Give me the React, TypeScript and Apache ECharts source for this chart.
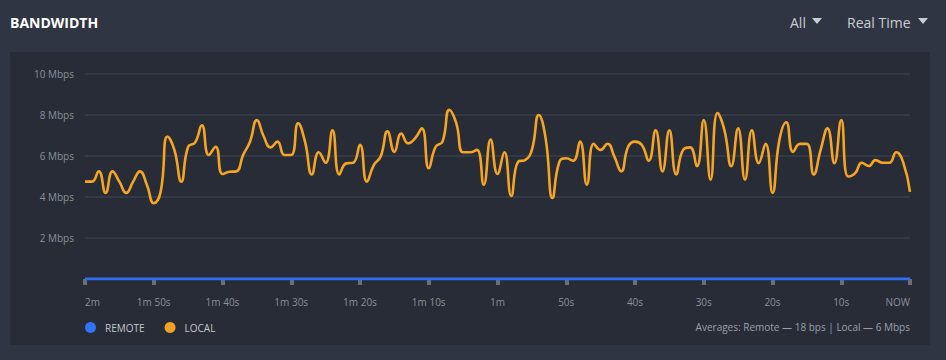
import React, { useEffect, useRef } from "react";
import * as echarts from "echarts";

const seconds: number[] = Array.from({ length: 121 }, (_, i) => i);

const localMbps: number[] = [
  4.75, 4.75, 5.25, 4.2, 5.25, 4.75, 4.2, 4.75, 5.25, 4.6,
  3.7, 4.25, 6.95, 6.3, 4.75, 6.45, 6.65, 7.5, 6.05, 6.45,
  5.12, 5.23, 5.25, 6.05, 6.7, 7.75, 6.95, 6.42, 6.7, 6.05,
  6.05, 7.6, 6.7, 5.1, 6.18, 5.67, 7.25, 5.1, 5.64, 5.67,
  6.55, 4.75, 5.56, 5.97, 7.2, 6.2, 7.1, 6.62, 6.86, 7.35,
  5.4, 6.45, 6.7, 8.25, 7.6, 6.18, 6.18, 6.3, 4.6, 6.8,
  5.12, 6.18, 4.05, 5.72, 5.8, 6.3, 8.0, 6.86, 3.95, 5.72,
  5.89, 5.77, 6.7, 4.6, 6.6, 6.3, 6.6, 5.97, 5.25, 6.45,
  6.7, 6.54, 5.77, 7.25, 5.25, 7.25, 5.1, 6.3, 6.42, 5.5,
  7.75, 4.85, 8.1, 7.27, 5.5, 7.35, 4.85, 7.25, 5.65, 6.6,
  4.2, 6.78, 7.65, 6.2, 6.59, 6.59, 5.1, 6.3, 7.35, 5.65,
  7.75, 5.0, 5.15, 5.67, 5.51, 5.8, 5.67, 5.67, 6.18, 5.7,
  4.25,
];

// 18 bps expressed in Mbps
const remoteMbps: number[] = seconds.map(() => 0.000018);

const xTickLabels: Record<number, string> = {
  0: "2m", 10: "1m 50s", 20: "1m 40s", 30: "1m 30s", 40: "1m 20s",
  50: "1m 10s", 60: "1m", 70: "50s", 80: "40s", 90: "30s",
  100: "20s", 110: "10s", 120: "NOW",
};

const yTicks: number[] = [2, 4, 6, 8, 10];

const FONT = "'Open Sans', 'Noto Sans', sans-serif";

export default function App() {
  const ref = useRef<HTMLDivElement>(null);

  useEffect(() => {
    if (!ref.current) return;
    const chart = echarts.init(ref.current, undefined, { renderer: "svg" });
    const option: any = {
      animation: false,
      backgroundColor: "#2f3542",
      textStyle: { fontFamily: FONT },
      grid: { left: 85, right: 36, top: 74, bottom: 81 },
      legend: {
        left: 80,
        top: 317,
        icon: "circle",
        itemWidth: 11,
        itemHeight: 11,
        itemGap: 20,
        textStyle: { color: "#c3c7cd", fontSize: 10, fontFamily: FONT, padding: [0, 0, 0, 4] },
        data: ["REMOTE", "LOCAL"],
      },
      xAxis: {
        type: "value",
        min: 0,
        max: 120,
        interval: 10,
        axisLine: { show: true, lineStyle: { color: "rgba(0,0,0,0)", width: 1 } },
        axisTick: {
          show: true,
          length: 6,
          lineStyle: { color: "#6a6e75", width: 4, cap: "butt" },
        },
        splitLine: { show: false },
        axisLabel: {
          color: "#8b9099",
          fontSize: 10,
          fontFamily: FONT,
          margin: 18,
          alignMinLabel: "left",
          alignMaxLabel: "right",
          formatter: (v: number) => xTickLabels[v] ?? "",
        },
      },
      yAxis: {
        type: "value",
        min: 0,
        max: 10,
        interval: 2,
        axisLine: { show: false },
        axisTick: { show: false },
        splitLine: { lineStyle: { color: "#343a45", width: 2 } },
        axisLabel: {
          color: "#8b9099",
          fontSize: 10,
          fontFamily: FONT,
          margin: 11,
          formatter: (v: number) => (yTicks.includes(v) ? `${v} Mbps` : ""),
        },
      },
      series: [
        {
          name: "LOCAL",
          type: "line",
          data: seconds.map((s, i) => [s, localMbps[i]]),
          smooth: 0.5,
          showSymbol: false,
          symbol: "circle",
          lineStyle: { color: "#f5a523", width: 2.6 },
          itemStyle: { color: "#f0a126" },
          z: 3,
        },
        {
          name: "REMOTE",
          type: "line",
          data: seconds.map((s, i) => [s, remoteMbps[i]]),
          showSymbol: false,
          symbol: "circle",
          lineStyle: { color: "#2f6ff0", width: 3 },
          itemStyle: { color: "#2f73f6" },
          z: 4,
        },
      ],
      graphic: [
        {
          type: "rect",
          z: -10,
          silent: true,
          shape: { x: 10, y: 52, width: 920, height: 293 },
          style: { fill: "#272c36" },
        },
        {
          type: "text",
          x: 10,
          y: 22,
          style: {
            text: "BANDWIDTH",
            fill: "#ffffff",
            font: `bold 14px ${FONT}`,
            verticalAlign: "middle",
          },
        },
        {
          type: "text",
          x: 790,
          y: 22,
          style: {
            text: "All",
            fill: "#c9cdd3",
            font: `14px ${FONT}`,
            verticalAlign: "middle",
          },
        },
        {
          type: "polygon",
          shape: { points: [[812, 18], [822, 18], [817, 24]] },
          style: { fill: "#c9cdd3" },
        },
        {
          type: "text",
          x: 847,
          y: 22,
          style: {
            text: "Real Time",
            fill: "#c9cdd3",
            font: `14px ${FONT}`,
            verticalAlign: "middle",
          },
        },
        {
          type: "polygon",
          shape: { points: [[918, 18], [928, 18], [923, 24]] },
          style: { fill: "#c9cdd3" },
        },
        {
          type: "text",
          x: 910,
          y: 327,
          style: {
            text: "Averages: Remote — 18 bps | Local — 6 Mbps",
            fill: "#9aa0a8",
            font: `10px ${FONT}`,
            align: "right",
            verticalAlign: "middle",
          },
        },
      ],
    };
    chart.setOption(option);
    return () => chart.dispose();
  }, []);

  return (
    <div
      ref={ref}
      style={{ position: "absolute", left: 0, top: 0, width: 946, height: 360 }}
    />
  );
}
